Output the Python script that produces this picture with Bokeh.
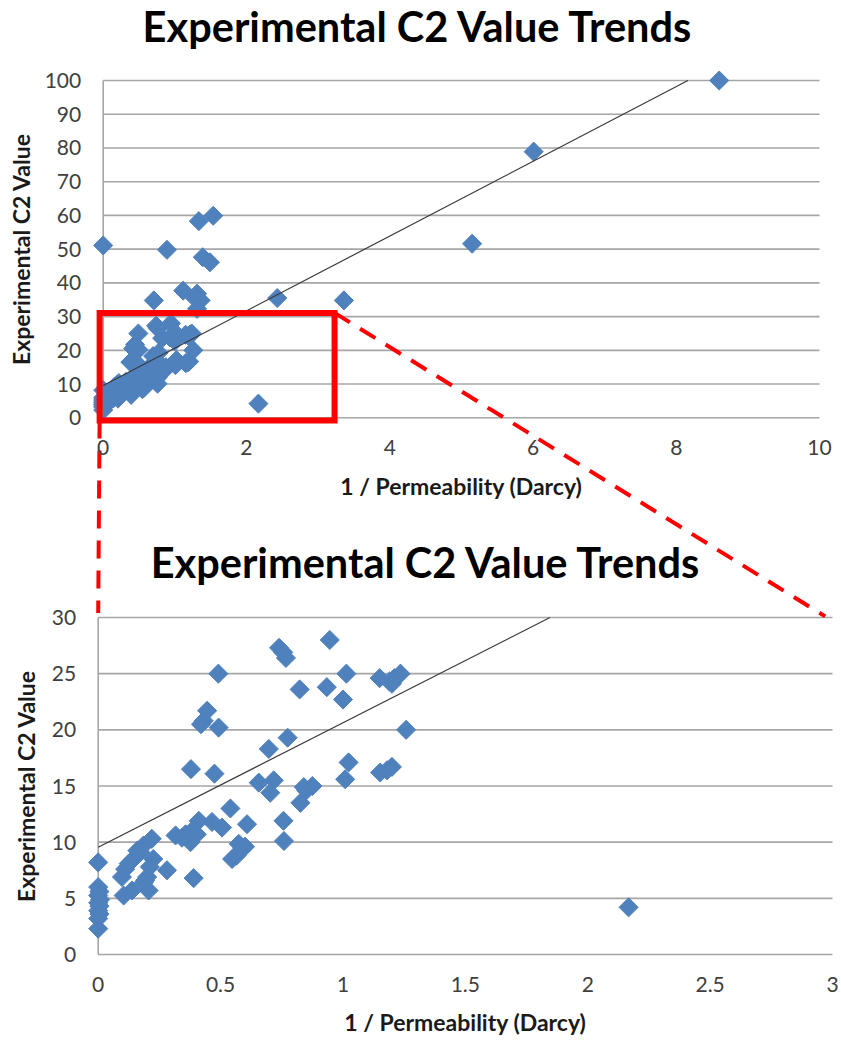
import numpy as np
from bokeh.plotting import figure
from bokeh.models import Range1d, FixedTicker, LinearAxis, NumeralTickFormatter
from bokeh.core.properties import value
from bokeh.embed import file_html
from bokeh.resources import INLINE

# ---------------- data ----------------
X = [0, 0, 0.005, 0, 0.005, 0, 0.008, 0, 0.005, 0, 0, 0,
     0.104, 0.138, 0.206, 0.192, 0.097, 0.11, 0.144, 0.185, 0.219, 0.16, 0.225, 0.211,
     0.281, 0.39, 0.316, 0.357, 0.377, 0.411, 0.465, 0.506, 0.54, 0.608, 0.574, 0.588,
     0.547, 0.565, 0.60, 0.403, 0.383, 0.342, 0.125, 0.172, 0.2, 0.186,
     0.379, 0.475, 0.431, 0.445, 0.42, 0.492, 0.491, 0.656, 0.717, 0.703, 0.697, 0.774,
     0.757, 0.759, 0.84, 0.875, 0.826, 0.85,
     1.009, 1.023, 1.152, 1.2, 1.18, 1.258,
     0.823, 0.934, 1.0, 1.014, 0.946, 0.739, 0.756, 0.767, 1.15, 1.19, 1.21, 1.235, 1.2,
     2.167,
     0.89, 1.335, 1.536, 1.39, 1.49, 0.707, 1.117, 1.31, 1.36, 1.31, 1.28, 2.43, 3.36,
     5.15, 6.01, 8.6]
Y = [2.3, 3.2, 3.6, 3.9, 4.3, 4.6, 4.9, 5.25, 5.6, 6.0, 8.2, 51.1,
     5.25, 5.7, 5.7, 6.6, 6.9, 7.6, 8.5, 9.7, 10.3, 9.25, 8.5, 7.8,
     7.5, 6.8, 10.6, 10.7, 10.0, 11.9, 11.8, 11.3, 13.0, 11.6, 9.85, 9.4,
     8.5, 8.8, 9.6, 10.7, 11.0, 10.4, 8.1, 9.1, 6.9, 6.4,
     16.5, 16.1, 20.8, 21.7, 20.5, 20.2, 25.0, 15.3, 15.5, 14.4, 18.3, 19.3,
     11.9, 10.1, 14.9, 15.0, 13.5, 14.6,
     15.6, 17.1, 16.2, 16.7, 16.4, 20.0,
     23.6, 23.8, 22.7, 25.0, 28.0, 27.3, 26.9, 26.4, 24.6, 24.3, 24.6, 25.0, 24.1,
     4.2,
     49.8, 58.3, 59.9, 47.6, 46.1, 34.8, 37.7, 36.8, 34.8, 32.3, 35.5, 35.5, 34.8,
     51.6, 78.9, 100.0]

TREND_SLOPE = 11.08
TREND_INTERCEPT = 9.55

TOP_XTICKS = [0, 2, 4, 6, 8, 10]
TOP_YTICKS = [0, 10, 20, 30, 40, 50, 60, 70, 80, 90, 100]
BOT_XTICKS = [0, 0.5, 1, 1.5, 2, 2.5, 3]
BOT_YTICKS = [0, 5, 10, 15, 20, 25, 30]

# zoom box drawn on the overview chart (overview data units)
ZOOM_LEFT, ZOOM_RIGHT, ZOOM_BOTTOM, ZOOM_TOP = -0.05, 3.23, -0.8, 31.1
# where the connectors land on the detail chart (detail data units)
CONN_A_END = (0.0, 30.4)
CONN_B_END = (2.97, 30.1)

TITLE = "Experimental C2 Value Trends"
XLABEL = "1 / Permeability (Darcy)"
YLABEL = "Experimental C2 Value"

# ---------------- layout (canvas pixels) ----------------
W, H = 841, 1040
# overview chart: pixel of x=0, pixels per x unit, pixel of y=0, pixels per y unit
O1X, S1X, O1Y, S1Y = 102.7, 71.63, 417.3, 3.373
# detail chart
O2X, S2X, O2Y, S2Y = 97.7, 244.77, 954.0, 11.2333

BLUE = "#4F81BD"
GRID = "#a6a6a6"
RED = "#ff0000"
FONT = value("Lato")

xr1 = Range1d(-O1X / S1X, (W - O1X) / S1X)
yr1 = Range1d(-(H - O1Y) / S1Y, O1Y / S1Y)
xr2 = Range1d(-O2X / S2X, (W - O2X) / S2X)
yr2 = Range1d(-(H - O2Y) / S2Y, O2Y / S2Y)

p = figure(width=W, height=H, x_range=xr1, y_range=yr1, output_backend="svg",
           toolbar_location=None, min_border=0, min_border_left=0, min_border_right=0,
           min_border_top=0, min_border_bottom=0)
p.extra_x_ranges = {"bx": xr2}
p.extra_y_ranges = {"by": yr2}
p.outline_line_color = None
p.background_fill_color = "white"
p.border_fill_color = "white"
p.xgrid.visible = False
p.ygrid.visible = False
p.title.visible = False


def style_axis(ax, ticks):
    ax.ticker = FixedTicker(ticks=ticks)
    ax.fixed_location = 0
    ax.axis_line_color = None
    ax.major_tick_line_color = None
    ax.minor_tick_line_color = None
    ax.major_tick_in = 0
    ax.major_tick_out = 0
    ax.minor_tick_in = 0
    ax.minor_tick_out = 0
    ax.major_label_standoff = 22
    ax.major_label_text_font = "Lato"
    ax.major_label_text_font_size = "21px"
    ax.major_label_text_color = "#404040"


style_axis(p.xaxis[0], TOP_XTICKS)
style_axis(p.yaxis[0], TOP_YTICKS)
bx_axis = LinearAxis(x_range_name="bx", y_range_name="by")
by_axis = LinearAxis(x_range_name="bx", y_range_name="by")
style_axis(bx_axis, BOT_XTICKS)
style_axis(by_axis, BOT_YTICKS)
bx_axis.formatter = NumeralTickFormatter(format="0.[0]")
p.add_layout(bx_axis, "below")
p.add_layout(by_axis, "left")


def chart(xticks, yticks, xs, ys, detail, title_dx, title_dy, xlab_dy, ylab_dx):
    kw = dict(x_range_name="bx", y_range_name="by") if detail else {}
    xmid = (xticks[0] + xticks[-1]) / 2
    ymid = (yticks[0] + yticks[-1]) / 2
    # gridlines + y axis line
    p.segment(x0=0, x1=xticks[-1], y0=yticks, y1=yticks, line_color=GRID, line_width=1.6, **kw)
    p.segment(x0=0, x1=0, y0=yticks[0], y1=yticks[-1], line_color=GRID, line_width=1.6, **kw)
    # points
    p.scatter(xs, ys, marker="square", size=13.5, angle=np.pi / 4, color=BLUE, **kw)
    # linear trendline up to the top of the value axis
    xe = (yticks[-1] - TREND_INTERCEPT) / TREND_SLOPE
    p.line([0, xe], [TREND_INTERCEPT, TREND_INTERCEPT + TREND_SLOPE * xe],
           line_color="#3a3a3a", line_width=1.2, **kw)
    # title and axis titles
    p.text(x=[xmid], y=[yticks[-1]], text=[TITLE], x_offset=title_dx, y_offset=title_dy,
           text_font=FONT, text_font_style="bold", text_font_size="41.5px",
           text_color="black", text_align="center", text_baseline="middle", **kw)
    p.text(x=[xmid], y=[0], text=[XLABEL], y_offset=xlab_dy,
           text_font=FONT, text_font_style="bold", text_font_size="23px",
           text_color="#1a1a1a", text_align="center", text_baseline="middle", **kw)
    p.text(x=[0], y=[ymid], text=[YLABEL], x_offset=ylab_dx, angle=np.pi / 2,
           text_font=FONT, text_font_style="bold", text_font_size="23px",
           text_color="#1a1a1a", text_align="center", text_baseline="middle", **kw)


# overview chart: all points
chart(TOP_XTICKS, TOP_YTICKS, X, Y, False, -43, -55, 68, -82)
# detail chart: the points that fall inside its axes
inside = [(x, y) for x, y in zip(X, Y) if x <= BOT_XTICKS[-1] and y <= BOT_YTICKS[-1]]
chart(BOT_XTICKS, BOT_YTICKS, [a for a, _ in inside], [b for _, b in inside], True,
      -39, -56, 67, -72)

# zoom box on the overview
p.quad(left=ZOOM_LEFT, right=ZOOM_RIGHT, bottom=ZOOM_BOTTOM, top=ZOOM_TOP,
       fill_alpha=0, line_color=RED, line_width=6, line_join="miter")


# connectors: from the zoom box corners to the detail chart, expressed in overview units
def detail_to_overview(x, y):
    cx, cy = O2X + x * S2X, O2Y - y * S2Y
    return (cx - O1X) / S1X, (O1Y - cy) / S1Y


ax_, ay_ = detail_to_overview(*CONN_A_END)
bx_, by_ = detail_to_overview(*CONN_B_END)
p.segment(x0=[ZOOM_LEFT, ZOOM_RIGHT], y0=[ZOOM_BOTTOM, ZOOM_TOP],
          x1=[ax_, bx_], y1=[ay_, by_], line_color=RED, line_width=4, line_dash="18 12")

open("out.html", "w").write(file_html(p, INLINE))
